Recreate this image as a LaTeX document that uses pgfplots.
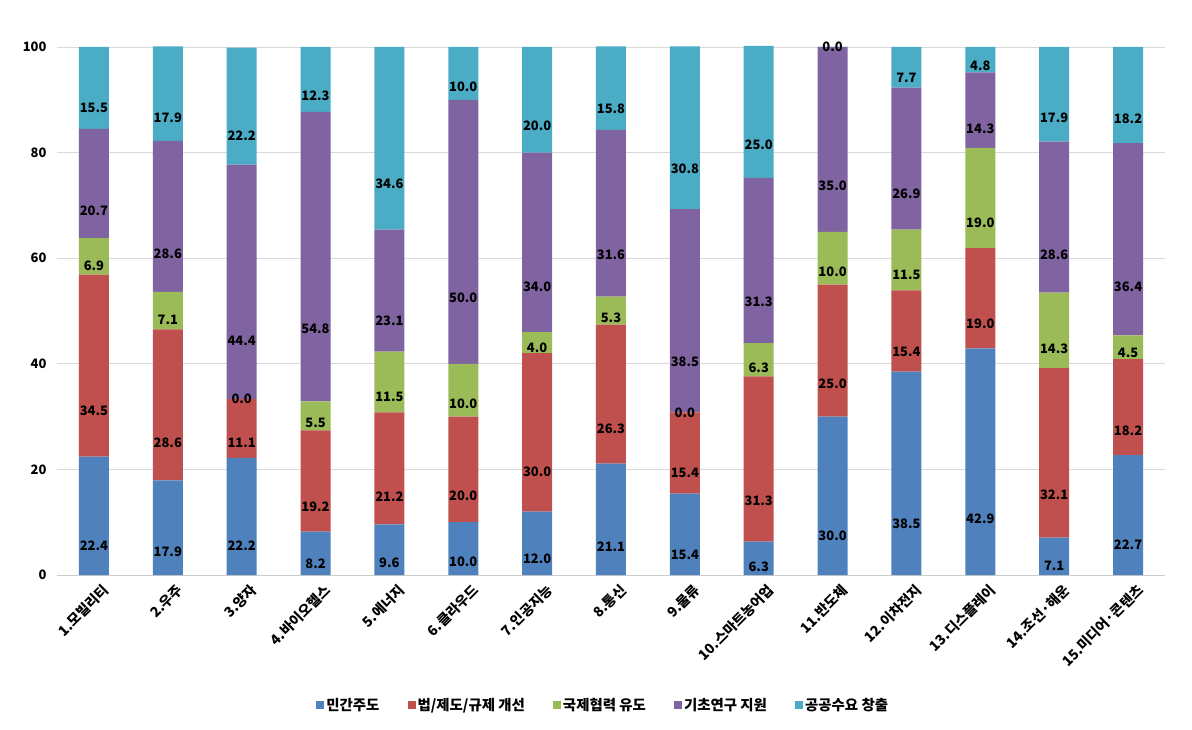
\documentclass[border=0pt]{standalone}
\usepackage{pgfplots}
\pgfplotsset{compat=1.18}
\usepackage{pgfplotstable}
\usepackage{fontspec}
\setmainfont{Noto Sans CJK KR}
\definecolor{c1}{HTML}{4F81BD}
\definecolor{c2}{HTML}{C0504D}
\definecolor{c3}{HTML}{9BBB59}
\definecolor{c4}{HTML}{8064A2}
\definecolor{c5}{HTML}{4BACC6}
\pgfplotstableread{
x a b c d e
0 22.4 34.5 6.9 20.7 15.5
1 17.9 28.6 7.1 28.6 17.9
2 22.2 11.1 0.001 44.4 22.2
3 8.2 19.2 5.5 54.8 12.3
4 9.6 21.2 11.5 23.1 34.6
5 10.0 20.0 10.0 50.0 10.0
6 12.0 30.0 4.0 34.0 20.0
7 21.1 26.3 5.3 31.6 15.8
8 15.4 15.4 0.001 38.5 30.8
9 6.3 31.3 6.3 31.3 25.0
10 30.0 25.0 10.0 35.0 0.001
11 38.5 15.4 11.5 26.9 7.7
12 42.9 19.0 19.0 14.3 4.8
13 7.1 32.1 14.3 28.6 17.9
14 22.7 18.2 4.5 36.4 18.2
}\data
\begin{document}
\begin{tikzpicture}
\begin{axis}[
  at={(0,0)}, anchor=south west,
  scale only axis, width=1108bp, height=528bp,
  ybar stacked, bar width=30bp,
  xmin=-0.5, xmax=14.5, ymin=0, ymax=100,
  ytick={0,20,40,60,80,100},
  xtick={0,...,14},
  xticklabels={1.모빌리티,2.우주,3.양자,4.바이오헬스,5.에너지,6.클라우드,7.인공지능,8.통신,9.물류,10.스마트농어업,11.반도체,12.이차전지,13.디스플레이,14.조선·해운,15.미디어·콘텐츠},
  x tick label style={rotate=45, anchor=north east, font=\fontsize{14}{16}\selectfont\bfseries, inner sep=1bp, xshift=1bp, yshift=-10bp},
  y tick label style={font=\fontsize{13}{15}\selectfont\bfseries},
  /pgf/number format/assume math mode=true,
  major tick length=0pt,
  ymajorgrids, grid style={draw=black!15, line width=0.8pt},
  separate axis lines,
  axis x line*=bottom, axis y line*=left,
  x axis line style={draw=black!20, line width=0.8pt, -},
  y axis line style={draw=none},
  yticklabel style={xshift=-7bp},
  nodes near coords,
  point meta=explicit,
  nodes near coords style={font=\fontsize{13}{14}\selectfont\bfseries, text=black, anchor=center, inner sep=0pt,
    /pgf/number format/fixed, /pgf/number format/fixed zerofill, /pgf/number format/precision=1, /pgf/number format/assume math mode=true},
  every node near coord/.append style={/tikz/shift={(axis direction cs:0,-\myv)}},
  legend columns=5,
  legend style={at={(0.493,-0.246)}, anchor=center, draw=none, font=\fontsize{14.5}{16}\selectfont\bfseries,
    /tikz/every even column/.append style={column sep=26bp}},
  legend image code/.code={\fill[#1] (0bp,-4bp) rectangle (8bp,4bp);},
  clip=false,
]
\addplot[fill=c1, draw=none, visualization depends on={0.25*\thisrow{a} \as \myv}] table[x=x,y=a,meta=a]{\data};
\addplot[fill=c2, draw=none, visualization depends on={0.25*\thisrow{b} \as \myv}] table[x=x,y=b,meta=b]{\data};
\addplot[fill=c3, draw=none, visualization depends on={0.25*\thisrow{c} \as \myv}] table[x=x,y=c,meta=c]{\data};
\addplot[fill=c4, draw=none, visualization depends on={0.25*\thisrow{d} \as \myv}] table[x=x,y=d,meta=d]{\data};
\addplot[fill=c5, draw=none, visualization depends on={0.25*\thisrow{e} \as \myv}] table[x=x,y=e,meta=e]{\data};
\legend{민간주도,법/제도/규제 개선,국제협력 유도,기초연구 지원,공공수요 창출}
\end{axis}
\pgfresetboundingbox
\path (-57bp,-155bp) rectangle (1135bp,575bp);
\end{tikzpicture}
\end{document}
